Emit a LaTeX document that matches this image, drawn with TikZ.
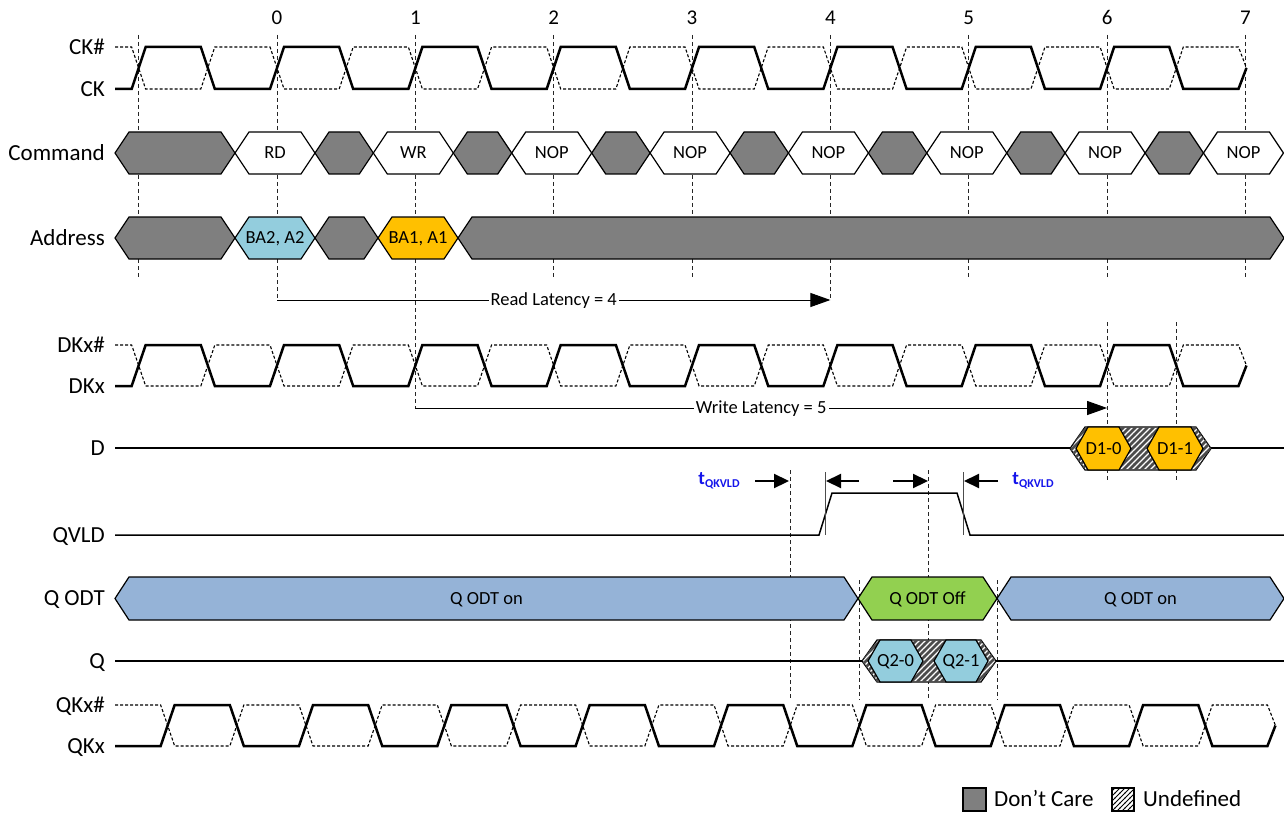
\documentclass[tikz,border=0pt]{standalone}
\usepackage{fontspec}
\setmainfont{Carlito}
\usetikzlibrary{arrows.meta,patterns}
\definecolor{dcgray}{HTML}{7F7F7F}
\definecolor{lblue}{HTML}{93CDDD}
\definecolor{orng}{HTML}{FFC000}
\definecolor{odtblue}{HTML}{95B3D7}
\definecolor{odtgreen}{HTML}{92D050}
\definecolor{tblue}{RGB}{20,20,235}
\pgfdeclarepatternformonly{stripes}{\pgfqpoint{-1pt}{-1pt}}{\pgfqpoint{7pt}{7pt}}{\pgfqpoint{6pt}{6pt}}{%
  \pgfsetlinewidth{2.6pt}\pgfpathmoveto{\pgfqpoint{-0.5pt}{-0.5pt}}\pgfpathlineto{\pgfqpoint{6.5pt}{6.5pt}}\pgfusepath{stroke}}
\pgfdeclarepatternformonly{legstripes}{\pgfqpoint{-1pt}{-1pt}}{\pgfqpoint{6pt}{6pt}}{\pgfqpoint{5pt}{5pt}}{%
  \pgfsetlinewidth{0.9pt}\pgfpathmoveto{\pgfqpoint{-0.5pt}{-0.5pt}}\pgfpathlineto{\pgfqpoint{5.5pt}{5.5pt}}\pgfusepath{stroke}}
\def\P{138.35}
\def\hp{69.175}
\def\tr{7}
\newcommand\hexbox[6]{%
  \draw[#6] (#1,#3) -- (#1+#5,#3-#4) -- (#2-#5,#3-#4) -- (#2,#3) -- (#2-#5,#3+#4) -- (#1+#5,#3+#4) -- cycle;}
\newcommand\clock[3]{%
  \draw[clks] (115,#2) \foreach \k in {-1,...,6}{ -- ({#3+(\k)*\P-\tr},#2) -- ({#3+(\k)*\P+\tr},#1) -- ({#3+(\k)*\P+\hp-\tr},#1) -- ({#3+(\k)*\P+\hp+\tr},#2)} -- ({#3+7*\P-\tr},#2) -- ({#3+7*\P+1},{(#1+#2)/2});
  \draw[clkd] (115,#1) \foreach \k in {-1,...,6}{ -- ({#3+(\k)*\P-\tr},#1) -- ({#3+(\k)*\P+\tr},#2) -- ({#3+(\k)*\P+\hp-\tr},#2) -- ({#3+(\k)*\P+\hp+\tr},#1)} -- ({#3+7*\P-\tr},#1) -- ({#3+7*\P+1},{(#1+#2)/2});}
\begin{document}
\begin{tikzpicture}[x=1pt,y=-1pt,
  clks/.style={line width=2.5pt, line join=miter},
  clkd/.style={line width=1.1pt, dash pattern=on 3pt off 2pt},
  vdash/.style={line width=0.9pt, black!85, dash pattern=on 4pt off 3pt},
  sig/.style={line width=1.5pt},
  hx/.style={draw=black, line width=1.2pt, line join=miter},
  dc/.style={hx, fill=dcgray},
  wh/.style={hx, fill=white},
  lb/.style={hx, fill=lblue},
  og/.style={hx, fill=orng},
  ob/.style={hx, fill=odtblue},
  gr/.style={hx, fill=odtgreen},
  hatch/.style={hx, fill=white, postaction={pattern=stripes, pattern color=black!70}},
  lab/.style={anchor=east, font=\fontsize{23}{25}\selectfont, text height=14.8pt, text depth=0pt, inner sep=0pt},
  tick/.style={font=\fontsize{21}{23}\selectfont, text height=13.5pt, text depth=0pt, inner sep=0pt},
  inner/.style={font=\fontsize{18.5}{20}\selectfont, text height=11.9pt, text depth=0pt, inner sep=0pt},
  tq/.style={font=\fontsize{19}{20}\selectfont\bfseries, text=tblue, inner sep=0pt},
  arr/.style={line width=1pt, -{Triangle[length=20pt,width=14pt]}},
  sarr/.style={line width=2.2pt, -{Triangle[length=15pt,width=14pt]}},
]
\useasboundingbox (0,0) rectangle (1284,813);
\fill[white] (0,0) rectangle (1284,813);

% tick numbers
\foreach \k in {0,...,7} \node[tick] (t\k) at ({277+\k*\P},18) {\k};

% vertical dashed lines
\foreach \k in {-1,2,3,5,6,7} \draw[vdash] ({277+(\k)*\P},35) -- ({277+(\k)*\P},277);
\draw[vdash] (277,35) -- (277,300);
\draw[vdash] ({277+\P},35) -- ({277+\P},408);
\draw[vdash] ({277+4*\P},35) -- ({277+4*\P},300);
\draw[vdash] ({277+6*\P},322) -- ({277+6*\P},480);
\draw[vdash] ({277+6*\P+\hp},322) -- ({277+6*\P+\hp},480);
\draw[vdash] ({277+4*\P-40},470) -- ({277+4*\P-40},700);
\draw[vdash] ({277+5*\P-40},470) -- ({277+5*\P-40},700);
\draw[vdash] ({277+4*\P+29},580) -- ({277+4*\P+29},700);
\draw[vdash] ({277+5*\P+29},580) -- ({277+5*\P+29},700);

% labels
\node[lab] (lckn) at (105,47) {CK\#};
\node[lab] (lck) at (105,89) {CK};
\node[lab] (lcmd) at (105,153) {Command};
\node[lab] (ladr) at (105,238) {Address};
\node[lab] (ldkn) at (105,345) {DKx\#};
\node[lab] (ldk) at (105,386) {DKx};
\node[lab] (ld) at (105,448) {D};
\node[lab] (lqv) at (105,535) {QVLD};
\node[lab] (lodt) at (105,598) {Q ODT};
\node[lab] (lq) at (105,661) {Q};
\node[lab] (lqkn) at (105,705) {QKx\#};
\node[lab] (lqk) at (105,746) {QKx};

% clocks
\clock{47}{89}{277}
\clock{345}{386}{277}
\clock{705}{746}{306}

% command row
\hexbox{115}{235}{153}{21}{14}{dc}
\hexbox{235}{315}{153}{21}{14}{wh}
\node[inner] (cmd0) at (275,153) {RD};
\foreach \k in {1,...,7}{
  \pgfmathsetmacro\xa{277+(\k-1)*\P+38}
  \pgfmathsetmacro\xb{277+\k*\P-42}
  \pgfmathsetmacro\xc{277+\k*\P+38}
  \hexbox{\xa}{\xb}{153}{21}{14}{dc}
  \hexbox{\xb}{\xc}{153}{21}{14}{wh}
  \node[inner] (cmd\k) at ({277+\k*\P-2},153) {\ifnum\k=1 WR\else NOP\fi};
}

% address row
\hexbox{115}{235}{238}{21}{14}{dc}
\hexbox{235}{315}{238}{21}{14}{lb}
\node[inner] (adr0) at (275,238) {BA2, A2};
\hexbox{315}{378}{238}{21}{14}{dc}
\hexbox{378}{458}{238}{21}{14}{og}
\node[inner] (adr1) at (418,238) {BA1, A1};
\hexbox{458}{1284}{238}{21}{14}{dc}

% latencies
\coordinate (rl0) at (277,300);
\coordinate (rl1) at ({277+4*\P},300);
\draw[arr] (rl0) -- (rl1) node[midway, inner, fill=white, inner sep=2pt] (rlt) {Read Latency = 4};
\coordinate (wl0) at ({277+\P},408);
\coordinate (wl1) at ({277+6*\P},408);
\draw[arr] (wl0) -- (wl1) node[midway, inner, fill=white, inner sep=2pt] (wlt) {Write Latency = 5};

% D
\draw[sig] (115,448) -- (1284,448);
\hexbox{1070}{1211}{448.5}{21.5}{15}{hatch}
\hexbox{1076}{1131}{448.5}{21.5}{12}{og}
\node[inner] (d0) at (1103.5,448.5) {D1-0};
\hexbox{1147}{1203}{448.5}{21.5}{12}{og}
\node[inner] (d1) at (1175,448.5) {D1-1};

% QVLD
\draw[sig] (115,535) -- (819,535) -- (832,493) -- (957,493) -- (970,535) -- (1284,535);
\draw[line width=1pt, black!70] (825,472) -- (825,535);
\draw[line width=1pt, black!70] (963,472) -- (963,535);
\coordinate (a1s) at (755,481); \coordinate (a1e) at (789,481);
\coordinate (a2s) at (859,481); \coordinate (a2e) at (826,481);
\coordinate (a3s) at (893,481); \coordinate (a3e) at (928,481);
\coordinate (a4s) at (998,481); \coordinate (a4e) at (964,481);
\draw[sarr] (a1s) -- (a1e);
\draw[sarr] (a2s) -- (a2e);
\draw[sarr] (a3s) -- (a3e);
\draw[sarr] (a4s) -- (a4e);
\node[tq] (tq1) at (719,481) {t\raisebox{-3pt}{\fontsize{12}{12}\selectfont QKVLD}};
\node[tq] (tq2) at (1033,481) {t\raisebox{-3pt}{\fontsize{12}{12}\selectfont QKVLD}};

% Q ODT
\hexbox{115}{858}{598.5}{21.5}{14}{ob}
\node[inner] (odt0) at (486.5,598.5) {Q ODT on};
\hexbox{858}{997}{598.5}{21.5}{14}{gr}
\node[inner] (odt1) at (927.5,598.5) {Q ODT Off};
\hexbox{997}{1284}{598.5}{21.5}{14}{ob}
\node[inner] (odt2) at (1140.5,598.5) {Q ODT on};

% Q
\draw[sig] (115,661) -- (1284,661);
\hexbox{862}{996}{661}{21}{15}{hatch}
\hexbox{868}{923}{661}{21}{12}{lb}
\node[inner] (q0) at (895.5,661) {Q2-0};
\hexbox{934}{988}{661}{21}{12}{lb}
\node[inner] (q1) at (961,661) {Q2-1};

% legend
\draw[line width=1.2pt, fill=dcgray] (963,788) rectangle (986,811);
\node[lab, anchor=west] (lg1) at (994,799.5) {Don’t Care};
\draw[line width=1.2pt, fill=white, postaction={pattern=legstripes}] (1112,788) rectangle (1134,811);
\node[lab, anchor=west] (lg2) at (1143,799.5) {Undefined};
\end{tikzpicture}
\end{document}
